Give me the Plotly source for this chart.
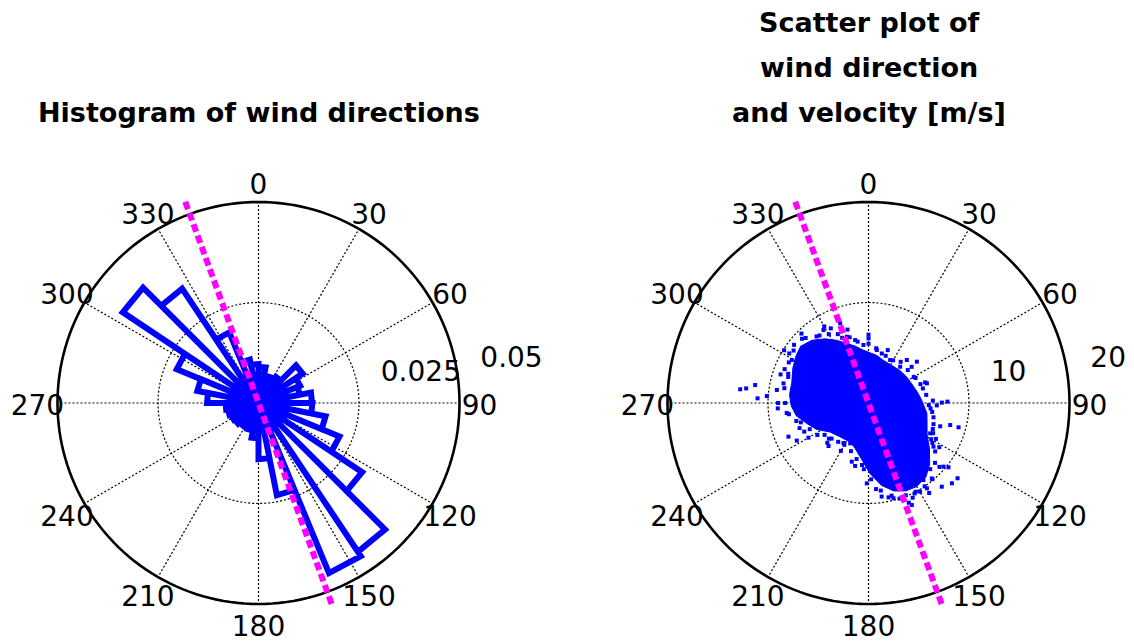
import plotly.graph_objects as go

# ---------------- data ----------------
# Wind-direction histogram: 32 equal sectors, normalised frequency per sector
SECTORS = 32
sector_freq = [0.0090, 0.0070, 0.0065, 0.0078, 0.0132, 0.0112, 0.0105, 0.0133,
               0.0134, 0.0170, 0.0218, 0.0310, 0.0445, 0.0458, 0.0234, 0.0140,
               0.0088, 0.0070, 0.0066, 0.0068, 0.0072, 0.0074, 0.0078, 0.0082,
               0.0128, 0.0155, 0.0220, 0.0406, 0.0342, 0.0190, 0.0110, 0.0097]

# Principal wind axis (compass degrees)
principal_axis_deg = 160

# Radial scales
hist_rmax = 0.05
hist_rticks = [0.025, 0.05]
hist_rtick_labels = ["0.025", "0.05"]
speed_rmax = 20
speed_rticks = [10, 20]
speed_rtick_labels = ["10", "20"]

# Angular ticks
angle_ticks = list(range(0, 360, 30))
angle_tick_labels = [str(a) for a in angle_ticks]

# Outline of the dense core of direction/speed observations
core_dir = [354, 10, 19, 32, 44, 56, 66, 78, 87, 100, 110, 118, 127, 135, 142, 150,
            157, 164, 171, 179, 189, 198, 206, 220, 233, 243, 252, 260, 268, 276,
            285, 295, 303, 310, 318, 326, 333, 340, 347]
core_speed = [5.3, 4.8, 4.5, 4.4, 4.5, 4.6, 4.7, 5.0, 5.3, 5.9, 6.2, 6.6, 7.6, 8.6, 9.3, 9.6,
              9.5, 9.1, 8.3, 7.0, 5.4, 4.6, 4.3, 4.4, 4.8, 5.8, 6.5, 7.3, 7.7, 7.9,
              7.9, 8.3, 8.6, 8.8, 8.4, 7.7, 7.0, 6.3, 5.8]

# Sparse observations around the core (direction, speed m/s)
obs_dir = [276.1, 276.8, 279.0, 272.4, 273.9, 278.1, 266.6, 247.2, 242.3, 222.9,
           195.9, 181.2, 157.0, 149.8, 145.6, 138.8, 133.9, 130.2, 130.3, 128.8,
           105.1, 105.1, 89.7, 89.0, 87.9, 102.4, 71.4, 49.5, 41.7, 0.0,
           328.3, 333.2, 299.3, 283.0, 160.2, 165.3, 144.5, 123.9, 116.2, 204.4,
           340.4, 341.9, 26.7, 41.1, 8.9, 355, 15, 60, 75, 95,
           112, 120, 137, 152, 168, 175, 186, 212, 228, 238,
           256, 263, 290, 305, 314, 322, 336, 348, 240, 250,
           118, 140, 155, 162, 292,
           0, 0, 8, 20, 20, 30, 38, 50, 50, 62,
           70, 70, 82, 92, 92, 98, 108, 108, 115, 122,
           122, 126, 132, 132, 140, 146, 146, 153, 158, 158,
           166, 172, 172, 178, 184, 192, 192, 200, 210, 210,
           218, 226, 226, 234, 246, 246, 254, 262, 270, 270,
           280, 288, 288, 297, 302, 302, 308, 316, 316, 324,
           330, 330, 338, 344, 344, 350]
obs_speed = [12.84, 12.26, 11.42, 11.05, 10.14, 9.21, 9.04, 8.64, 8.06, 5.84,
             6.07, 8.0, 11.03, 10.21, 10.29, 11.07, 11.52, 11.6, 9.79, 10.21,
             8.42, 9.28, 7.3, 7.86, 6.41, 6.62, 6.13, 6.33, 5.73, 6.43,
             8.53, 8.32, 8.75, 8.68, 10.26, 9.8, 9.41, 7.79, 6.84, 4.41,
             8.41, 6.94, 4.79, 4.79, 5.34, 5.8, 5.1, 5.2, 5.6, 6.2,
             6.9, 7.2, 9.0, 10.0, 9.6, 8.6, 6.2, 4.7, 5.3, 6.0,
             7.4, 8.2, 8.5, 9.1, 9.2, 8.4, 7.5, 6.4, 6.9, 7.3,
             7.6, 9.9, 10.4, 10.0, 9.0,
             5.9, 6.8, 5.5, 5.0, 5.6, 4.9, 5.2, 5.1, 5.6, 5.3,
             5.5, 6.0, 5.8, 6.0, 6.8, 6.4, 6.8, 7.5, 7.1, 7.5,
             8.3, 8.2, 8.9, 9.5, 9.8, 10.0, 10.8, 10.1, 9.9, 10.7,
             9.5, 8.8, 9.4, 7.6, 6.6, 5.7, 6.4, 5.1, 4.8, 5.5,
             4.9, 5.1, 5.7, 5.4, 6.4, 7.0, 7.0, 8.0, 8.3, 9.0,
             8.5, 8.4, 9.2, 8.9, 9.3, 9.9, 9.4, 9.0, 9.6, 8.3,
             7.9, 8.8, 7.0, 6.8, 7.6, 6.2]

# ---------------- styling / geometry ----------------
W, H = 1134, 643
FRAME_PX = 201          # pixel radius of the outer circle
RANGE_PAD = 1.11        # radial range beyond the outer circle (room for labels/axis line)
LABEL_DROP_PX = 5       # angle labels sit slightly below their nominal radius
CENTERS = {"polar": (258.5, 403), "polar2": (868.5, 403)}
FONT = "DejaVu Sans"
BLUE = "#0000ff"
MAGENTA = "#ff00ff"
GRID = dict(color="black", width=1.2, dash="2px,2px")


def domain_for(center, dy=0):
    cx, cy = center
    cy += dy
    rad = FRAME_PX * RANGE_PAD
    return dict(x=[(cx - rad) / W, (cx + rad) / W],
                y=[(H - cy - rad) / H, (H - cy + rad) / H])


def add_frame(fig, sp, label_sp, rmax, rticks, rlabels):
    ring_theta = list(range(0, 361, 2))
    # dotted inner rings
    for rv in rticks[:-1]:
        fig.add_trace(go.Scatterpolar(
            r=[rv] * len(ring_theta), theta=ring_theta, mode="lines",
            line=GRID, subplot=sp, hoverinfo="skip"))
    # dotted spokes
    th, rr = [], []
    for a in angle_ticks:
        th += [a, a, None]
        rr += [0, rmax, None]
    fig.add_trace(go.Scatterpolar(
        r=rr, theta=th, mode="lines", line=GRID, subplot=sp, hoverinfo="skip"))
    # solid outer circle
    fig.add_trace(go.Scatterpolar(
        r=[rmax] * len(ring_theta), theta=ring_theta, mode="lines",
        line=dict(color="black", width=2.6),
        subplot=sp, hoverinfo="skip"))
    # angle labels (on a companion subplot with identical scale)
    fig.add_trace(go.Scatterpolar(
        r=[1.1 * rmax] * len(angle_ticks), theta=angle_ticks, mode="text",
        text=angle_tick_labels, textposition="middle center",
        textfont=dict(family=FONT, size=28, color="black"),
        cliponaxis=False, subplot=label_sp, hoverinfo="skip"))
    # radial labels
    rinc = rticks[0]
    fig.add_trace(go.Scatterpolar(
        r=[rv + rinc / 20 for rv in rticks], theta=[82] * len(rticks), mode="text",
        text=["\u00a0\u00a0" + s for s in rlabels], textposition="top right",
        textfont=dict(family=FONT, size=28, color="black"),
        cliponaxis=False, subplot=sp, hoverinfo="skip"))


def add_axis_line(fig, sp, rmax):
    ext = 1.066 * rmax
    fig.add_trace(go.Scatterpolar(
        r=[ext, 0, ext],
        theta=[principal_axis_deg + 180, principal_axis_deg + 180, principal_axis_deg],
        mode="lines", line=dict(color=MAGENTA, width=6, dash="8px,4px"),
        subplot=sp, hoverinfo="skip"))


fig = go.Figure()

# ---- left: rose histogram ----
add_frame(fig, "polar", "polar3", hist_rmax, hist_rticks, hist_rtick_labels)
width = 360 / SECTORS
rose_th, rose_r = [], []
for k, f in enumerate(sector_freq):
    a0, a1 = k * width, (k + 1) * width
    rose_th += [a0, a0, a1, a1]
    rose_r += [0, f, f, 0]
fig.add_trace(go.Scatterpolar(
    r=rose_r, theta=rose_th, mode="lines",
    line=dict(color=BLUE, width=6), subplot="polar", hoverinfo="skip"))
add_axis_line(fig, "polar", hist_rmax)

# ---- right: direction / speed scatter ----
add_frame(fig, "polar2", "polar4", speed_rmax, speed_rticks, speed_rtick_labels)
fig.add_trace(go.Scatterpolar(
    r=core_speed + [core_speed[0]], theta=core_dir + [core_dir[0]],
    mode="lines", fill="toself", fillcolor=BLUE,
    line=dict(color=BLUE, width=1), subplot="polar2", hoverinfo="skip"))
fig.add_trace(go.Scatterpolar(
    r=obs_speed, theta=obs_dir, mode="markers",
    marker=dict(color=BLUE, size=4, symbol="square", line=dict(width=0)),
    subplot="polar2", hoverinfo="skip"))
add_axis_line(fig, "polar2", speed_rmax)


def polar_cfg(center, rmax, dy=0):
    return dict(
        domain=domain_for(center, dy),
        bgcolor="rgba(0,0,0,0)",
        radialaxis=dict(visible=False, showgrid=False, showline=False,
                        showticklabels=False, ticks="", range=[0, rmax * RANGE_PAD]),
        angularaxis=dict(rotation=90, direction="clockwise", showgrid=False,
                         showline=False, showticklabels=False, ticks=""),
    )


fig.update_layout(
    width=W, height=H, margin=dict(l=0, r=0, t=0, b=0),
    paper_bgcolor="white", plot_bgcolor="white", showlegend=False,
    polar=polar_cfg(CENTERS["polar"], hist_rmax),
    polar2=polar_cfg(CENTERS["polar2"], speed_rmax),
    polar3=polar_cfg(CENTERS["polar"], hist_rmax, LABEL_DROP_PX),
    polar4=polar_cfg(CENTERS["polar2"], speed_rmax, LABEL_DROP_PX),
)

title_font = dict(family=FONT, size=27, color="black")
titles = [
    (CENTERS["polar"][0], 113, "Histogram of wind directions"),
    (CENTERS["polar2"][0], 22, "Scatter plot of"),
    (CENTERS["polar2"][0], 67, "wind direction"),
    (CENTERS["polar2"][0], 113, "and velocity [m/s]"),
]
for x, y, txt in titles:
    fig.add_annotation(x=x / W, y=(H - y) / H, xref="paper", yref="paper",
                       text="<b>" + txt + "</b>", showarrow=False,
                       xanchor="center", yanchor="middle", font=title_font)

fig.write_html("out.html")
